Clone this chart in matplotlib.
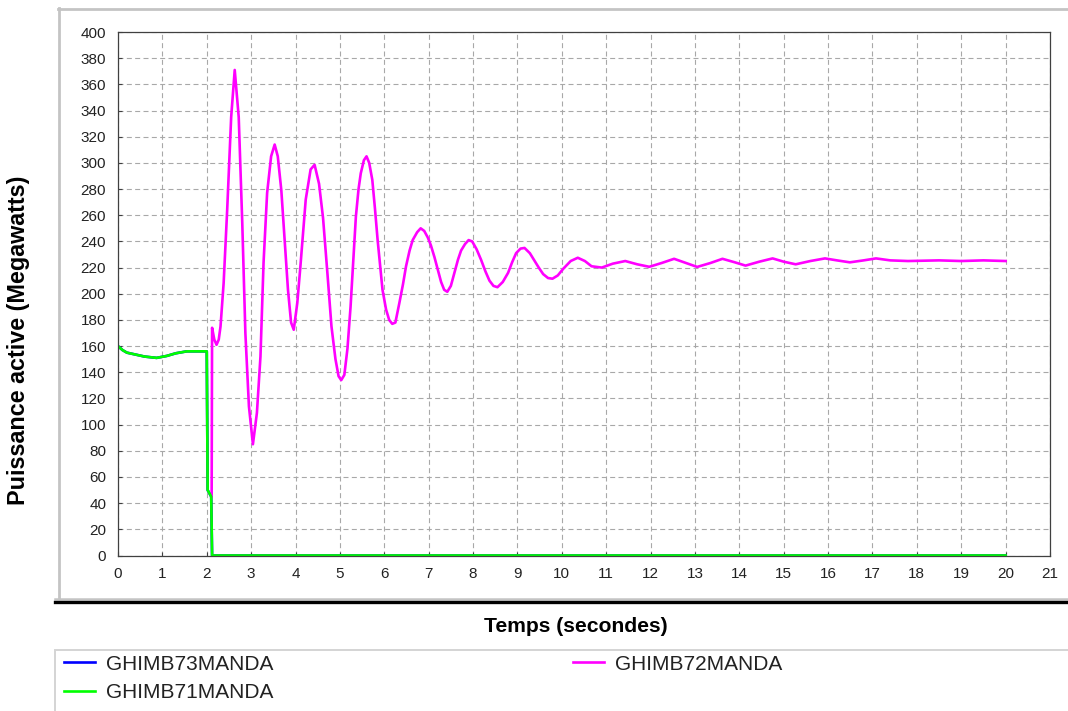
import matplotlib
matplotlib.use("Agg")
import matplotlib.pyplot as plt
from matplotlib.lines import Line2D
from matplotlib.patches import Rectangle

plt.rcParams['font.family'] = ['Liberation Sans', 'DejaVu Sans']

# Green unit (GHIMB71MANDA), trips just after t = 2 s
t_71 = [0.0, 0.1, 0.2, 0.4, 0.6, 0.87, 1.1, 1.3, 1.55, 2.0, 2.02, 2.1, 2.12, 20.0]
p_71 = [160, 157, 155, 153.5, 152, 151, 152.5, 154.5, 156, 156, 50, 45, 0, 0]

# Blue unit (GHIMB73MANDA) sits under the green trace
t_73 = list(t_71)
p_73 = list(p_71)

# Magenta unit (GHIMB72MANDA)
t_72 = [2.11, 2.12, 2.17, 2.22, 2.27, 2.31, 2.38, 2.46, 2.55, 2.63, 2.72, 2.80, 2.87,
        2.95, 3.04, 3.13, 3.21, 3.28, 3.36, 3.45, 3.53, 3.60, 3.68, 3.75, 3.83, 3.90,
        3.96, 4.04, 4.11, 4.23, 4.34, 4.43, 4.53, 4.62, 4.72, 4.81, 4.90, 4.97, 5.03,
        5.10, 5.17, 5.24, 5.30, 5.36, 5.42, 5.47, 5.54, 5.60, 5.66, 5.73, 5.79, 5.85,
        5.91, 5.96, 6.04, 6.11, 6.18, 6.25, 6.34, 6.42, 6.49, 6.57, 6.64, 6.74, 6.82,
        6.90, 6.98, 7.05, 7.13, 7.20, 7.28, 7.35, 7.42, 7.50, 7.58, 7.66, 7.73, 7.82,
        7.90, 7.98, 8.08, 8.18, 8.28, 8.37, 8.46, 8.55, 8.67, 8.79, 8.88, 8.97, 9.07,
        9.16, 9.28, 9.39, 9.48, 9.58, 9.69, 9.79, 9.91, 10.03, 10.20, 10.36, 10.52,
        10.67, 10.9, 11.15, 11.43, 11.7, 11.97, 12.25, 12.53, 12.8, 13.05, 13.35,
        13.62, 13.9, 14.14, 14.45, 14.75, 15.0, 15.27, 15.6, 15.93, 16.2, 16.49, 16.8,
        17.08, 17.4, 17.8, 18.5, 19.0, 19.5, 20.0]
p_72 = [45, 174, 165, 161, 165, 175, 208, 264, 335, 371, 335, 254, 170,
        114, 85, 109, 152, 224, 277, 305, 314, 305, 279, 244, 203, 178,
        172.5, 193, 221, 272, 295, 298.5, 284, 258, 215, 175, 150, 137, 134,
        138, 158, 190, 225, 259, 280, 292, 302, 305, 300, 287, 265, 241,
        220, 203, 188, 180, 177, 178, 193, 207, 221, 233, 241, 247, 250,
        248, 243, 237, 228, 219, 209, 203, 201.5, 206, 216, 226, 233, 238,
        241, 240, 234, 226, 217, 210, 206, 205, 209, 216, 224, 231, 234.5,
        235, 231, 225, 220, 215, 212, 211.5, 214, 219, 225, 227.5, 225,
        221, 220, 223, 225, 222.5, 220.6, 223.5, 226.7, 223.5, 220.5, 223.5,
        226.7, 224, 221.5, 224.5, 227, 224.5, 222.5, 225, 227, 225.5, 224, 225.5,
        227, 225.5, 225, 225.5, 225, 225.5, 225]

x_ticks = list(range(0, 22))
y_ticks = list(range(0, 401, 20))

W, H = 1068, 711
fig = plt.figure(figsize=(W / 100, H / 100), dpi=100)
fig.patch.set_facecolor('white')

# panel frame (gray top/left, thick black bottom)
fig.add_artist(Line2D([58.5 / W, 58.5 / W], [1 - 8 / H, 1 - 598 / H], color='#c4c4c4', lw=2.0))
fig.add_artist(Line2D([57.5 / W, 1.0], [1 - 8.5 / H, 1 - 8.5 / H], color='#c4c4c4', lw=2.0))
fig.add_artist(Line2D([55 / W, 1.0], [1 - 598.5 / H, 1 - 598.5 / H], color='#c4c4c4', lw=1.8))
fig.add_artist(Line2D([55 / W, 1.0], [1 - 602.3 / H, 1 - 602.3 / H], color='black', lw=2.4))

# legend box
fig.add_artist(Rectangle((55 / W, -0.01), 1.0, 1 - 650 / H + 0.01, transform=fig.transFigure,
                         facecolor='none', edgecolor='#d4d4d4', lw=1.4))

ax = fig.add_axes([118 / W, 1 - 555.5 / H, 932 / W, 523.5 / H])

l73, = ax.plot(t_73, p_73, color='#0000ff', lw=1.9)
l72, = ax.plot(t_72, p_72, color='#ff00ff', lw=1.9)
l71, = ax.plot(t_71, p_71, color='#00ff00', lw=1.9)

ax.set_xlim(0, 21)
ax.set_ylim(0, 400)
ax.set_xticks(x_ticks)
ax.set_yticks(y_ticks)
ax.tick_params(direction='in', length=3, width=0.8, color='#404040',
               labelsize=11, pad=8.5, labelcolor='#222222')
ax.grid(True, color='#a8a8a8', lw=0.8, linestyle=(0, (4.5, 3)))
ax.set_axisbelow(True)
for s in ax.spines.values():
    s.set_color('#404040')
    s.set_linewidth(0.9)

fig.text(19 / W, 1 - 340 / H, 'Puissance active (Megawatts)', rotation=90,
         ha='center', va='center', fontsize=16.8, fontweight='bold')
fig.text(576 / W, 1 - 626 / H, 'Temps (secondes)', ha='center', va='center',
         fontsize=15.2, fontweight='bold')

leg_kw = dict(loc='upper left', frameon=False, fontsize=15, handlelength=1.5,
              handletextpad=0.5, labelspacing=0.45, borderpad=0, borderaxespad=0)
leg1 = fig.legend([l73, l71], ['GHIMB73MANDA', 'GHIMB71MANDA'],
                  bbox_to_anchor=(64 / W, 1 - 654.5 / H), **leg_kw)
leg2 = fig.legend([l72], ['GHIMB72MANDA'],
                  bbox_to_anchor=(573 / W, 1 - 654.5 / H), **leg_kw)
for leg in (leg1, leg2):
    for txt in leg.get_texts():
        txt.set_color('#222222')

fig.savefig('out.png', dpi=100, facecolor='white')
